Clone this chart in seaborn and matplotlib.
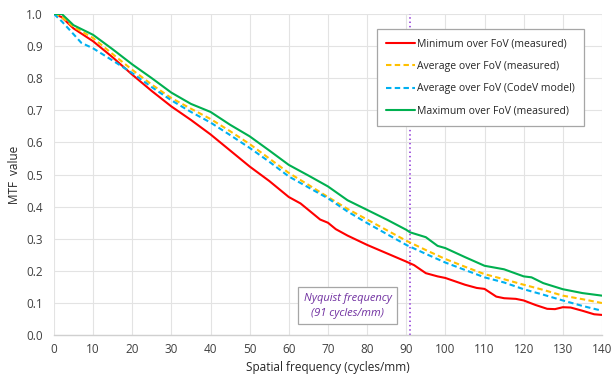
import matplotlib
matplotlib.use("Agg")
import matplotlib.pyplot as plt
import seaborn as sns
import pandas as pd

# ---- data ----
freq_min = [0, 2, 5, 10, 15, 20, 25, 30, 35, 40, 45, 50, 55, 60, 63, 65, 68, 70, 72, 75, 80, 85, 90, 92, 95, 98, 100, 105, 108, 110, 113, 115, 118, 120, 123, 126, 128, 130, 132, 135, 138, 140]
mtf_min = [1.0, 0.99, 0.955, 0.915, 0.865, 0.811, 0.76, 0.712, 0.67, 0.625, 0.575, 0.525, 0.48, 0.43, 0.41, 0.39, 0.36, 0.35, 0.33, 0.31, 0.281, 0.255, 0.229, 0.218, 0.193, 0.183, 0.178, 0.157, 0.147, 0.144, 0.12, 0.115, 0.113, 0.108, 0.094, 0.082, 0.081, 0.087, 0.086, 0.076, 0.065, 0.063]

freq_avg = [0, 2, 5, 10, 15, 20, 25, 30, 35, 40, 45, 50, 55, 60, 65, 70, 75, 80, 85, 90, 95, 100, 105, 110, 115, 120, 125, 130, 135, 140]
mtf_avg = [1.0, 0.99, 0.96, 0.925, 0.875, 0.826, 0.78, 0.738, 0.705, 0.673, 0.635, 0.595, 0.55, 0.505, 0.468, 0.43, 0.393, 0.36, 0.327, 0.294, 0.265, 0.237, 0.213, 0.19, 0.174, 0.157, 0.141, 0.123, 0.112, 0.10]

freq_model = [0, 2, 5, 7, 10, 15, 20, 25, 30, 35, 40, 45, 50, 55, 60, 65, 70, 75, 80, 85, 90, 95, 100, 105, 110, 115, 120, 125, 130, 135, 140]
mtf_model = [1.0, 0.977, 0.937, 0.91, 0.893, 0.855, 0.816, 0.772, 0.731, 0.695, 0.662, 0.623, 0.583, 0.54, 0.494, 0.46, 0.426, 0.385, 0.349, 0.315, 0.281, 0.253, 0.226, 0.203, 0.18, 0.164, 0.143, 0.126, 0.108, 0.091, 0.076]

freq_max = [0, 2, 5, 10, 15, 20, 25, 30, 35, 40, 45, 50, 55, 60, 65, 70, 75, 80, 85, 90, 91, 95, 98, 100, 105, 110, 115, 120, 122, 125, 130, 135, 140]
mtf_max = [1.0, 1.0, 0.965, 0.935, 0.89, 0.843, 0.80, 0.755, 0.72, 0.695, 0.655, 0.619, 0.575, 0.530, 0.497, 0.463, 0.42, 0.39, 0.36, 0.328, 0.32, 0.305, 0.278, 0.271, 0.243, 0.216, 0.205, 0.183, 0.18, 0.162, 0.143, 0.131, 0.123]

series_labels = ["Minimum over FoV (measured)", "Average over FoV (measured)",
                 "Average over FoV (CodeV model)", "Maximum over FoV (measured)"]
nyquist = 91
x_ticks = list(range(0, 141, 10))
y_ticks = [i / 10 for i in range(0, 11)]

# ---- plot ----
sns.set_theme(style="white")
plt.rcParams['font.family'] = ['Open Sans', 'DejaVu Sans']

fig = plt.figure(figsize=(6.13, 3.77), dpi=100)
ax = fig.add_axes([0.088, 0.111, 0.894, 0.852])

styles = [
    (freq_min, mtf_min, "#FF0000", "-"),
    (freq_avg, mtf_avg, "#FFC000", (0, (2.6, 1.6))),
    (freq_model, mtf_model, "#00B0F0", (0, (2.6, 1.6))),
    (freq_max, mtf_max, "#00B050", "-"),
]
for (xs, ys, col, ls), lab in zip(styles, series_labels):
    df = pd.DataFrame({"x": xs, "y": ys})
    sns.lineplot(data=df, x="x", y="y", ax=ax, color=col, linewidth=1.5,
                 label=lab, linestyle=ls)

ax.axvline(nyquist, color="#9B4DDB", linestyle=(0, (0.8, 1.6)), linewidth=1.3, zorder=1)

ax.text(75, 0.091, "Nyquist frequency\n(91 cycles/mm)", ha="center", va="center",
        fontsize=8, style="italic", color="#7030A0", linespacing=1.5,
        bbox=dict(boxstyle="square,pad=0.5", facecolor="white", edgecolor="#A6A6A6", linewidth=0.9))

ax.set_xlim(0, 140)
ax.set_ylim(0, 1.0)
ax.set_xticks(x_ticks)
ax.set_yticks(y_ticks)
ax.set_yticklabels([f"{v:.1f}" for v in y_ticks])
ax.grid(True, color="#E3E3E3", linewidth=0.8)
ax.set_axisbelow(True)
for s in ["top", "right", "left"]:
    ax.spines[s].set_visible(False)
ax.spines["bottom"].set_color("#D0D0D0")
ax.spines["bottom"].set_linewidth(1.0)
ax.tick_params(axis="both", labelsize=8.5, colors="#404040", length=0)
ax.tick_params(axis="y", pad=8)
ax.tick_params(axis="x", pad=6)
ax.set_xlabel("Spatial frequency (cycles/mm)", fontsize=8.5, color="#262626", labelpad=3)
ax.set_ylabel("MTF  value", fontsize=8.5, color="#262626", labelpad=4)

leg = ax.legend(loc="upper right", bbox_to_anchor=(0.968, 0.953), fontsize=7.5,
                frameon=True, fancybox=False, edgecolor="#A6A6A6", framealpha=1,
                handlelength=2.8, handletextpad=0.2, labelspacing=1.1,
                borderpad=0.9, borderaxespad=0)
leg.get_frame().set_linewidth(0.9)
for t in leg.get_texts():
    t.set_color("#262626")

fig.savefig("out.png", dpi=100)
